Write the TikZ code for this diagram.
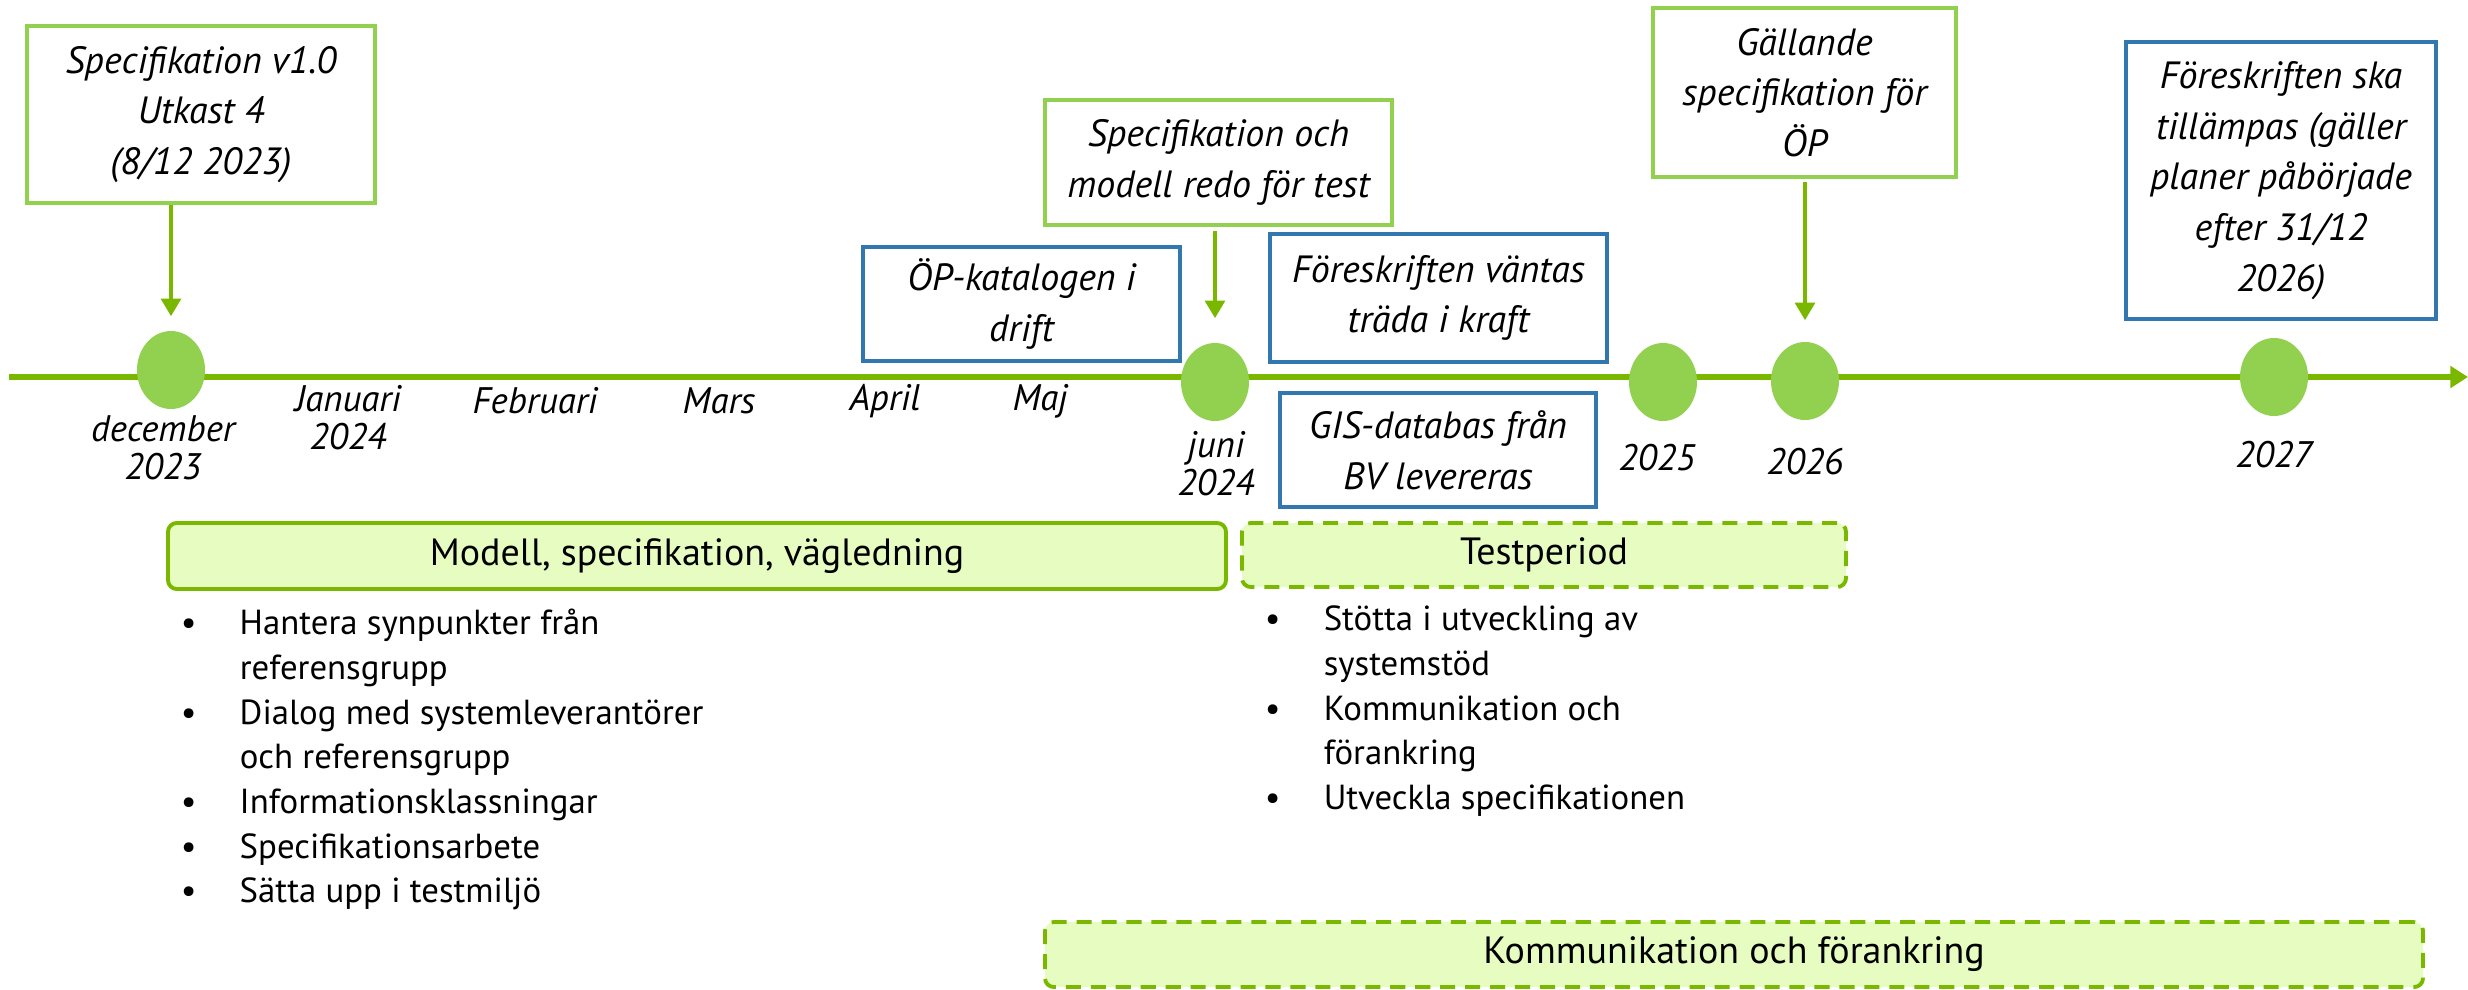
\documentclass[tikz,border=0pt]{standalone}
\usepackage{fontspec}
\setmainfont{PT Sans}
\usetikzlibrary{arrows.meta,shapes.geometric,positioning,calc}

\definecolor{ljusgron}{HTML}{92D050}
\definecolor{morkgron}{HTML}{7AB800}
\definecolor{bandgron}{HTML}{E6FCC0}
\definecolor{blaa}{HTML}{3278AF}

\tikzset{
  milstolpe/.style={ellipse, fill=ljusgron, minimum width=0.68cm, minimum height=0.78cm, inner sep=0pt},
  etikett/.style={font=\fontsize{10.5}{10.8}\selectfont\itshape, align=center, inner sep=0pt},
  gronruta/.style={draw=ljusgron, line width=1.1pt, fill=white, align=center, inner sep=0pt,
    font=\fontsize{10.8}{14.4}\selectfont\itshape},
  blaruta/.style={gronruta, draw=blaa},
  pil/.style={draw=morkgron, line width=1.4pt, -{Triangle[width=5.5pt,length=5pt]}},
  fas/.style={draw=morkgron, fill=bandgron, line width=1.1pt, rounded corners=2.5pt, inner sep=0pt,
    font=\fontsize{10.8}{12}\selectfont},
  fasstreckad/.style={fas, dash pattern=on 4.3pt off 2.8pt},
  punkter/.style={anchor=north west, inner sep=0pt, font=\fontsize{9.9}{12.7}\selectfont}
}

\begin{document}
\begin{tikzpicture}
  \useasboundingbox (0,0) rectangle (24.68,9.89);

  % tidslinje
  \coordinate (start) at (0.09,6.12);
  \coordinate (slut) at (24.68,6.12);
  \draw[draw=morkgron, line width=1.7pt, -{Triangle[width=6pt,length=5pt]}] (start) -- (slut);

  % milstolpar
  \node[milstolpe] (dec) at (1.71,6.19) {};
  \node[milstolpe] (juni) at (12.15,6.07) {};
  \node[milstolpe] (ar2025) at (16.63,6.07) {};
  \node[milstolpe] (ar2026) at (18.05,6.08) {};
  \node[milstolpe] (ar2027) at (22.74,6.12) {};

  % etiketter under linjen
  \node[etikett] (lbldec) at (1.63,5.41) {december\\2023};
  \node[etikett] (lbljan) at (3.48,5.71) {Januari\\2024};
  \node[etikett] (lblfeb) at (5.35,5.88) {Februari};
  \node[etikett] (lblmar) at (7.19,5.88) {Mars};
  \node[etikett] (lblapr) at (8.85,5.88) {April};
  \node[etikett] (lblmaj) at (10.40,5.88) {Maj};
  \node[etikett] (lbljuni) at (12.16,5.25) {juni\\2024};
  \node[etikett] (lbl2025) at (16.57,5.31) {2025};
  \node[etikett] (lbl2026) at (18.05,5.27) {2026};
  \node[etikett] (lbl2027) at (22.74,5.34) {2027};

  % rutor
  \node[gronruta, minimum width=3.48cm, minimum height=1.77cm] (spec) at (2.01,8.745) {Specifikation v1.0\\Utkast 4\\(8/12 2023)};
  \node[blaruta, minimum width=3.17cm, minimum height=1.14cm] (katalog) at (10.215,6.85) {ÖP-katalogen i\\drift};
  \node[gronruta, minimum width=3.47cm, minimum height=1.25cm] (redo) at (12.185,8.265) {Specifikation och\\modell redo för test};
  \node[blaruta, minimum width=3.37cm, minimum height=1.28cm] (vantas) at (14.385,6.91) {Föreskriften väntas\\träda i kraft};
  \node[blaruta, minimum width=3.16cm, minimum height=1.14cm] (gis) at (14.38,5.39) {GIS-databas från\\BV levereras};
  \node[gronruta, minimum width=3.03cm, minimum height=1.69cm] (gallande) at (18.045,8.965) {Gällande\\specifikation för\\ÖP};
  \node[blaruta, minimum width=3.10cm, minimum height=2.77cm] (tillampas) at (22.81,8.085) {Föreskriften ska\\tillämpas (gäller\\planer påbörjade\\efter 31/12\\2026)};

  % pilar
  \draw[pil, shorten >=0.14cm] (spec.south -| dec) -- (dec.north);
  \draw[pil, shorten <=0.04cm, shorten >=0.24cm] (redo.south -| juni) -- (juni.north);
  \draw[pil, shorten <=0.03cm, shorten >=0.21cm] (gallande.south -| ar2026) -- (ar2026.north);

  % faser
  \node[fas, minimum width=10.58cm, minimum height=0.66cm] (modell) at (6.97,4.33) {Modell, specifikation, vägledning};
  \node[fasstreckad, minimum width=6.04cm, minimum height=0.64cm] (test) at (15.44,4.34) {Testperiod};
  \node[fasstreckad, minimum width=13.78cm, minimum height=0.65cm] (komm) at (17.34,0.345) {Kommunikation och förankring};

  % punktlistor
  \node[punkter] (modlista) at ([xshift=0.14cm,yshift=-0.12cm]modell.south west) {%
    \begin{tabular}{@{}p{0.59cm}@{}l@{}}
      \textbullet & Hantera synpunkter från\\
                  & referensgrupp\\
      \textbullet & Dialog med systemleverantörer\\
                  & och referensgrupp\\
      \textbullet & Informationsklassningar\\
      \textbullet & Specifikationsarbete\\
      \textbullet & Sätta upp i testmiljö
    \end{tabular}};
  \node[punkter] (testlista) at ([xshift=0.24cm,yshift=-0.10cm]test.south west) {%
    \begin{tabular}{@{}p{0.59cm}@{}l@{}}
      \textbullet & Stötta i utveckling av\\
                  & systemstöd\\
      \textbullet & Kommunikation och\\
                  & förankring\\
      \textbullet & Utveckla specifikationen
    \end{tabular}};
\end{tikzpicture}
\end{document}
